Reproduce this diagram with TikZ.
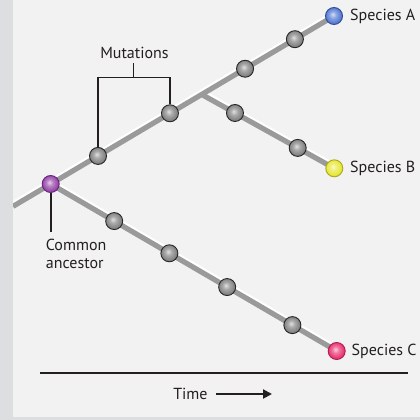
\documentclass[tikz,border=0pt]{standalone}
\usepackage{fontspec}
\setmainfont{PT Sans}
\usetikzlibrary{calc,arrows.meta}
\definecolor{outerbg}{HTML}{DDDEE0}
\definecolor{panelbg}{HTML}{F2F2F2}
\definecolor{branchgray}{HTML}{9A9A9A}
\definecolor{ink}{HTML}{231F20}
\definecolor{mutc}{HTML}{858585}
\definecolor{spA}{HTML}{5A7ED4}
\definecolor{spAedge}{HTML}{2E4A9C}
\definecolor{spB}{HTML}{E8E83A}
\definecolor{spBedge}{HTML}{A8A822}
\definecolor{spC}{HTML}{EA3A76}
\definecolor{spCedge}{HTML}{B01C4E}
\definecolor{ancc}{HTML}{9A4AAC}
\definecolor{ancedge}{HTML}{66247A}
\makeatletter
\pgfdeclareradialshading[tikz@ball]{softball}{\pgfqpoint{-4bp}{5bp}}{%
  color(0bp)=(tikz@ball!25!white); color(10bp)=(tikz@ball!70!white);
  color(22bp)=(tikz@ball); color(32bp)=(tikz@ball!80!black);
  color(50bp)=(tikz@ball!55!black)}
\makeatother
\tikzset{
  hilite/.style={draw=white, line width=5pt},
  branch/.style={draw=branchgray, line width=5.2pt},
  ballnode/.style={circle, inner sep=0pt, minimum size=17pt, line width=0.9pt},
  sball/.style={ball color=#1, shading=softball},
  mutation/.style={ballnode, draw=black!85, sball=mutc},
  species/.style={ballnode},
  label/.style={font=\fontsize{16}{17.5}\selectfont, text=ink, inner sep=0pt},
  bracket/.style={draw=ink, line width=1.2pt},
  axis/.style={draw=ink, line width=2pt}
}
\begin{document}
\begin{tikzpicture}[x=1pt,y=-1pt]
\useasboundingbox (0,0) rectangle (420,420);
\fill[outerbg] (0,0) rectangle (420,420);
\fill[panelbg] (13,0) rectangle (420,417);

% key points
\coordinate (pAnc) at (50.7,184);
\coordinate (pA) at (334,16);
\coordinate (pB) at (334.3,168.3);
\coordinate (pC) at (336.7,351);
\coordinate (pL) at ($(pAnc)!-0.133!(pA)$);
\coordinate (pBr) at ($(pAnc)!0.533!(pA)$);

% branches
\begin{scope}
\clip (13,0) rectangle (420,417);
\draw[hilite] ([yshift=2.6pt]pL) -- ([yshift=2.6pt]pA);
\draw[hilite] ([yshift=2.6pt]pBr) -- ([yshift=2.6pt]pB);
\draw[hilite] ([yshift=2.6pt]pAnc) -- ([yshift=2.6pt]pC);
\draw[branch] (pL) -- (pA);
\draw[branch] (pBr) -- (pB);
\draw[branch] (pAnc) -- (pC);
\end{scope}

% mutations
\node[mutation] (m1) at ($(pAnc)!0.167!(pA)$) {};
\node[mutation] (m2) at ($(pAnc)!0.421!(pA)$) {};
\node[mutation] (m3) at ($(pAnc)!0.686!(pA)$) {};
\node[mutation] (m4) at ($(pAnc)!0.862!(pA)$) {};
\node[mutation] (b1) at ($(pBr)!0.251!(pB)$) {};
\node[mutation] (b2) at ($(pBr)!0.724!(pB)$) {};
\node[mutation] (c1) at ($(pAnc)!0.222!(pC)$) {};
\node[mutation] (c2) at ($(pAnc)!0.415!(pC)$) {};
\node[mutation] (c3) at ($(pAnc)!0.617!(pC)$) {};
\node[mutation] (c4) at ($(pAnc)!0.845!(pC)$) {};

% species and ancestor
\node[species, draw=spAedge, sball=spA] (A) at (pA) {};
\node[species, draw=spBedge, sball=spB] (B) at (pB) {};
\node[species, draw=spCedge, sball=spC] (C) at (pC) {};
\node[species, draw=ancedge, sball=ancc] (anc) at (pAnc) {};

\node[label, anchor=west] (lA) at (350,16) {Species A};
\node[label, anchor=west] (lB) at (350,168.3) {Species B};
\node[label, anchor=west] (lC) at (351.5,351) {Species C};

% Mutations bracket
\node[label, anchor=base] (mlab) at (134.5,58.3) {Mutations};
\coordinate (bt) at (133.3,77.7);
\draw[bracket] (m1.north) |- (bt) -| (m2.north);
\draw[bracket] (bt) -- (bt |- 0,63.3);

% common ancestor label
\node[label, anchor=north west, align=left] (anclab) at (45.7,239.3) {Common\\ancestor};
\coordinate (ancstem) at (50.7,231.7);
\draw[bracket, line width=1.6pt] (anc.south) -- (ancstem);

% time axis
\coordinate (ax1) at (40,373);
\coordinate (ax2) at (408,373);
\draw[axis] (ax1) -- (ax2);
\node[label] (time) at (190.4,394) {Time};
\coordinate (tA) at (216,394);
\coordinate (tB) at (272,394);
\draw[axis, -{Triangle[length=9pt,width=9pt]}] (tA) -- (tB);
\end{tikzpicture}
\end{document}
